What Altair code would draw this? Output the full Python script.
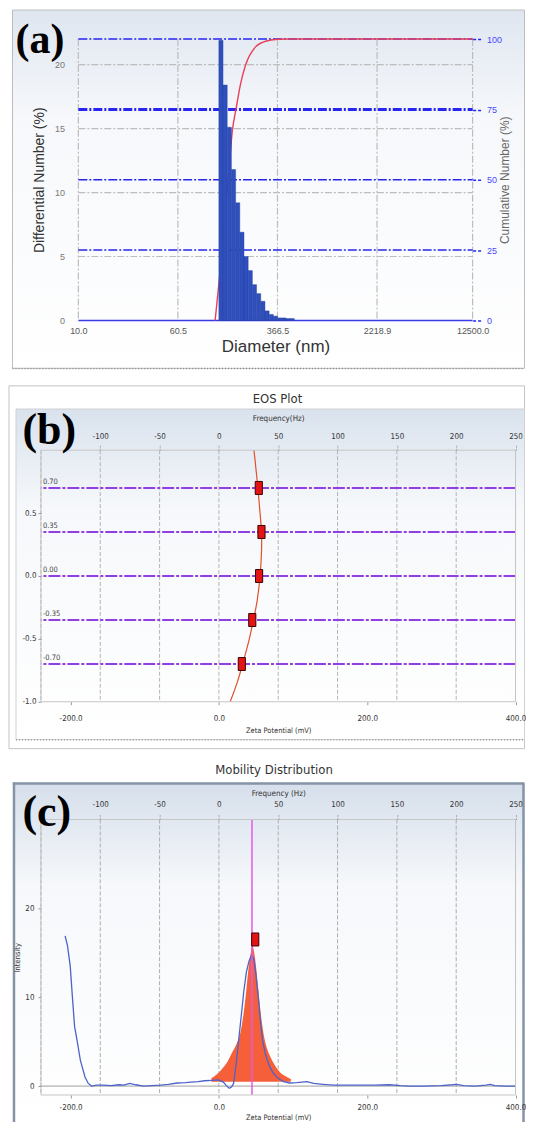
import altair as alt
import pandas as pd

# ---------------- (a) size distribution by number ----------------
bin_lo = [126.9, 136.9, 147.7, 159.3, 171.9, 185.4, 200.0, 215.8, 232.8, 251.1,
          270.9, 292.3, 315.3, 340.1, 366.9, 395.9, 427.1, 460.7]
bin_hi = [136.9, 147.7, 159.3, 171.9, 185.4, 200.0, 215.8, 232.8, 251.1, 270.9,
          292.3, 315.3, 340.1, 366.9, 395.9, 427.1, 460.7, 497.0]
diff_number = [21.9, 18.4, 15.1, 11.8, 9.2, 6.9, 5.0, 3.9, 2.8, 2.1,
               1.5, 0.75, 0.47, 0.34, 0.2, 0.2, 0.15, 0.15]
cum_diam = [118.7, 127.6, 151.8, 161.7, 173.8, 187.8, 205.6, 246.3, 295.1, 366.4, 446.8, 12500.0]
cum_number = [0, 14, 52.5, 67, 75.5, 84, 90.7, 97.2, 99.2, 99.9, 100, 100]
diam_ticks = [10.0, 60.5, 366.5, 2218.9, 12500.0]
diff_ticks = [0, 5, 10, 15, 20]
cum_ticks = [0, 25, 50, 75, 100]

# ---------------- (b) EOS plot ----------------
eos_field = [0.70, 0.35, 0.00, -0.35, -0.70]
eos_field_labels = ["0.70", "0.35", "0.00", "-0.35", "-0.70"]
eos_zeta = [53.8, 57.4, 54.2, 45.0, 30.9]
eos_curve_field = [1.0, 0.85, 0.70, 0.50, 0.35, 0.20, 0.00, -0.20, -0.35, -0.50, -0.70, -0.85, -1.00]
eos_curve_zeta = [47.3, 50.0, 52.5, 55.5, 57.4, 57.5, 55.5, 51.5, 46.5, 41.0, 32.0, 24.5, 15.2]
freq_ticks = [-150, -100, -50, 0, 50, 100, 150, 200, 250]
zeta_ticks = [-200, 0, 200, 400]
eos_y_ticks = [-1.0, -0.5, 0.0, 0.5, 1.0]

# ---------------- (c) mobility distribution ----------------
mob_zeta = [-207.4, -204.2, -200.5, -197.3, -194.6, -191.4, -186.8, -180.7, -176.2, -171.6,
            -165, -156.9, -145, -135, -128, -120.2, -112, -101.9, -90, -79,
            -68, -56, -45, -37.6, -28, -19.3, -10, -0.8, 6, 10,
            13.9, 17, 19.8, 23, 26.7, 30, 33.6, 37, 40.4, 44.1,
            47.3, 50, 53.2, 56, 58.8, 63, 67.9, 73, 79.5, 87,
            95.6, 105, 118.5, 128, 140, 155, 175, 195, 210, 230,
            245, 256, 275, 300, 315, 320.4, 330, 345, 360, 366,
            372, 385, 400]
mob_intensity = [16.9, 15.8, 13.5, 9.7, 6.7, 5.2, 2.9, 1.06, 0.3, 0.0,
                 0.1, 0.1, 0.05, 0.15, 0.1, 0.3, 0.15, 0.0, 0.05, 0.1,
                 0.2, 0.35, 0.4, 0.45, 0.5, 0.6, 0.65, 0.7, 0.45, 0.05,
                 -0.25, -0.1, 0.3, 2.3, 5.2, 7.8, 10.7, 12.8, 14.0, 14.8,
                 14.2, 12.5, 9.9, 7.3, 5.2, 3.5, 2.3, 1.5, 0.9, 0.5,
                 0.35, 0.4, 0.5, 0.3, 0.2, 0.1, 0.1, 0.1, 0.1, 0.15,
                 0.05, 0.0, 0.0, 0.05, 0.15, 0.2, 0.05, 0.0, 0.1, 0.2,
                 0.05, 0.0, 0.0]
peak_zeta = [-10, -3, 5, 12, 18, 24, 29, 33, 36, 40, 43, 45, 47, 50, 53, 56, 60, 65, 70, 75, 82, 90, 97]
peak_intensity = [0.9, 1.3, 2.0, 2.8, 3.8, 4.8, 6.0, 8.0, 10.0, 13.3, 15.0, 15.8, 15.3, 13.5,
                  11.0, 8.5, 6.0, 4.2, 3.2, 2.4, 1.6, 1.1, 0.8]
peak_base = 0.5
peak_mean_zeta = [44.6]
marker_zeta = [49.0]
marker_intensity = [16.5]
mob_y_ticks = [0, 10, 20, 30]

# ---------------- helpers ----------------
NARROW = "Liberation Sans Narrow, DejaVu Sans Condensed, Liberation Sans, sans-serif"
SANS = "Liberation Sans, Arial, sans-serif"
SERIF = "Liberation Serif, Times New Roman, serif"
RECT = "M-0.55,-1H0.55V1H-0.55Z"
RIGHT = 484.5
one = pd.DataFrame({"k": [0]})


def box(x1, x2, y1, y2, **kw):
    return alt.Chart(one).mark_rect(**kw).encode(
        x=alt.value(x1), x2=alt.value(x2), y=alt.value(y1), y2=alt.value(y2))


def hline(x1, x2, y, **kw):
    return alt.Chart(one).mark_rule(**kw).encode(
        x=alt.value(x1), x2=alt.value(x2), y=alt.value(y))


def vline(x, y1, y2, **kw):
    return alt.Chart(one).mark_rule(**kw).encode(
        x=alt.value(x), y=alt.value(y1), y2=alt.value(y2))


def label(text, x, y, **kw):
    return alt.Chart(one).mark_text(text=text, **kw).encode(x=alt.value(x), y=alt.value(y))


def grad(top):
    return alt.Gradient(gradient="linear", x1=0, x2=0, y1=0, y2=1,
                        stops=[alt.GradientStop(color=top, offset=0),
                               alt.GradientStop(color="#f6f8fb", offset=0.3),
                               alt.GradientStop(color="#ffffff", offset=1)])


MINUS = "replace(format(datum.value, '.1f'), '\u2212', '-')"
MINUS_D = "replace(format(datum.value, 'd'), '\u2212', '-')"
PANEL_LABEL = dict(font=SERIF, fontWeight="bold", align="left", baseline="middle", color="#000")

# ---------------- panel (a) ----------------
A_IN = 37.5
WA, HA = 432.5, 282
xa = alt.Scale(type="log", domain=[10, 12500], range=[A_IN, WA])
yl = alt.Scale(domain=[0, 22])
yr = alt.Scale(domain=[0, 100])
GRIDA = dict(color="#bdbdbd", strokeWidth=1.2, strokeDash=[7, 2, 2, 2])

hgrid_df = pd.DataFrame({"v": diff_ticks[1:], "d1": diam_ticks[0], "d2": diam_ticks[-1]})
cumline_df = pd.DataFrame({"c": cum_ticks[1:], "d1": diam_ticks[0], "d2": diam_ticks[-1]})
base_df = pd.DataFrame({"c": cum_ticks[:1], "d1": diam_ticks[0], "d2": diam_ticks[-1]})

a_bg = box(-28.5, RIGHT, -29.5, 340, fill="white", strokeWidth=0)
a_frame = box(-28.5, RIGHT, -29, 330, fill=grad("#dfe6f0"), stroke="#bdbdbd", strokeWidth=1)
a_dots = hline(-28.5, RIGHT, 330, color="#8a8a8a", strokeDash=[1, 2], strokeWidth=1.5)
a_vgrid = alt.Chart(pd.DataFrame({"d": diam_ticks})).mark_rule(**GRIDA).encode(
    x=alt.X("d:Q", scale=xa, axis=alt.Axis(
        orient="bottom", values=diam_ticks, format=".1f", title="Diameter (nm)",
        labelFont=SANS, labelFontSize=9, labelColor="#555", labelPadding=6, ticks=False,
        titleFont=SANS, titleFontSize=17, titleColor="#333", titlePadding=3, zindex=1)))
a_hgrid = alt.Chart(hgrid_df).mark_rule(**GRIDA).encode(
    x=alt.X("d1:Q", scale=xa, axis=None), x2="d2:Q",
    y=alt.Y("v:Q", scale=yl, axis=alt.Axis(
        orient="left", values=diff_ticks, title="Differential Number (%)", offset=-A_IN,
        labelFont=SANS, labelFontSize=9, labelColor="#777", ticks=False, labelPadding=14,
        titleFont=SANS, titleFontSize=14, titleColor="#333", titlePadding=8, zindex=1)))
a_cumlines = alt.Chart(cumline_df).mark_rule(
    color="#2626f0", strokeDash=[9, 2, 2, 2]).encode(
    x=alt.X("d1:Q", scale=xa, axis=None), x2="d2:Q",
    y=alt.Y("c:Q", scale=yr, axis=alt.Axis(
        orient="right", values=cum_ticks, title="Cumulative Number (%)",
        labelFont=SANS, labelFontSize=9, labelColor="#4848ff",
        tickColor="#2626f0", tickSize=9, tickDash=[3, 2], tickWidth=1.5,
        labelPadding=5, titleFont=SANS, titleFontSize=12, titleColor="#666",
        titlePadding=10, titleAngle=270, zindex=1)),
    strokeWidth=alt.condition("datum.c == 75", alt.value(3), alt.value(1.5)))
a_base = alt.Chart(base_df).mark_rule(color="#3a3ae8", strokeWidth=1.5).encode(
    x=alt.X("d1:Q", scale=xa, axis=None), x2="d2:Q",
    y=alt.Y("c:Q", scale=yr, axis=None))
a_cum = alt.Chart(pd.DataFrame({"d": cum_diam, "c": cum_number})).mark_line(
    color="#e8405a", strokeWidth=1.4, interpolate="monotone").encode(
    x=alt.X("d:Q", scale=xa, axis=None), y=alt.Y("c:Q", scale=yr, axis=None))
a_bars = alt.Chart(pd.DataFrame({"lo": bin_lo, "hi": bin_hi, "v": diff_number})).mark_rect(
    fill="#2f4fbd", stroke="#233f9c", strokeWidth=0.4).encode(
    x=alt.X("lo:Q", scale=xa, axis=None), x2="hi:Q",
    y=alt.Y("v:Q", scale=yl, axis=None), y2=alt.Y2Datum(0))
a_lab = label("(a)", -25.5, 1, fontSize=42, **PANEL_LABEL)

pa = alt.layer(
    a_bg, a_frame, a_dots, a_vgrid, a_hgrid, a_cumlines, a_base, a_cum, a_bars, a_lab
).resolve_scale(x="independent", y="independent").properties(width=WA, height=HA)

# ---------------- shared axes for (b), (c) ----------------
zs = alt.Scale(domain=[-240, 400])
fs = alt.Scale(domain=[-150, 250])


def freq_axis(title, lpad, tpad):
    return alt.Axis(orient="top", values=freq_ticks[1:], labelExpr=MINUS_D, title=title,
                    labelFont=NARROW, labelFontSize=8, labelColor="#333", labelPadding=lpad,
                    tickSize=6, tickColor="#aaaaaa", tickDash=[2, 1],
                    titleFont=NARROW, titleFontSize=8, titleColor="#333", titlePadding=tpad,
                    zindex=1)


def zeta_axis(lpad, tpad):
    return alt.Axis(orient="bottom", values=zeta_ticks, labelExpr=MINUS, title="Zeta Potential (mV)",
                    labelFont=NARROW, labelFontSize=8, labelColor="#333", labelPadding=lpad,
                    tickSize=3, tickColor="#999999",
                    titleFont=NARROW, titleFontSize=7.5, titleColor="#333", titlePadding=tpad,
                    zindex=1)


# ---------------- panel (b) ----------------
WB, HB = 475.5, 252
yb = alt.Scale(domain=[-1, 1])
b_bg = box(-32.5, RIGHT, -71.5, 305, fill="white", strokeWidth=0)
b_outer = box(-32, RIGHT, -64.5, 299, fill="white", stroke="#c4c4c4", strokeWidth=1)
b_inner = box(-25, RIGHT, -41.3, 290, fill=grad("#d9e2ed"), stroke="#d2d2d2", strokeWidth=1)
b_dots = hline(-25, RIGHT, 290, color="#9a9a9a", strokeDash=[1, 2], strokeWidth=1.5)
b_title = label("EOS Plot", 237, -51.5, font=NARROW, fontSize=13, color="#333",
                align="center", baseline="middle")
b_fgrid = alt.Chart(pd.DataFrame({"f": freq_ticks})).mark_rule(
    color="#b4b4b4", strokeDash=[4, 2]).encode(
    x=alt.X("f:Q", scale=fs, axis=freq_axis("Frequency(Hz)", 4, 10)))
b_levels = alt.Chart(pd.DataFrame({"lv": eos_field})).mark_rule(
    color="#9040e2", strokeWidth=2, strokeDash=[12, 2, 3, 2]).encode(
    y=alt.Y("lv:Q", scale=yb, axis=alt.Axis(
        orient="left", values=eos_y_ticks[:-1], labelExpr=MINUS,
        labelFont=NARROW, labelFontSize=8, labelColor="#333", labelPadding=2,
        tickSize=3, tickColor="#999999", title=None, zindex=1)))
b_lvtext = alt.Chart(pd.DataFrame({"lv": eos_field, "t": eos_field_labels})).mark_text(
    align="left", baseline="bottom", dy=-2, font=NARROW, fontSize=7.5, color="#444").encode(
    x=alt.value(2), y=alt.Y("lv:Q", scale=yb, axis=None), text="t:N")
b_curve = alt.Chart(pd.DataFrame({"z": eos_curve_zeta, "lv": eos_curve_field})).mark_line(
    color="#e0502c", strokeWidth=1.2, interpolate="catmull-rom").encode(
    x=alt.X("z:Q", scale=zs, axis=zeta_axis(10, 4)), y=alt.Y("lv:Q", scale=yb, axis=None),
    order=alt.Order("lv:Q", sort="descending"))
b_marks = alt.Chart(pd.DataFrame({"z": eos_zeta, "lv": eos_field})).mark_point(
    shape=RECT, size=169, filled=True, fill="#e41414", stroke="#3a0000",
    strokeWidth=1, opacity=1).encode(
    x=alt.X("z:Q", scale=zs, axis=None), y=alt.Y("lv:Q", scale=yb, axis=None))
b_border = box(0, WB, 0, HB, filled=False, stroke="#c6c6c6", strokeWidth=1)
b_lab = label("(b)", -18.5, -19.5, fontSize=44, **PANEL_LABEL)

pb = alt.layer(
    b_bg, b_outer, b_inner, b_dots, b_title, b_fgrid, b_levels, b_lvtext,
    b_curve, b_marks, b_border, b_lab
).resolve_scale(x="independent", y="independent").properties(width=WB, height=HB)

# ---------------- panel (c) ----------------
WC, HC = 475.5, 276
yc = alt.Scale(domain=[-1, 30])
C_EDGE = "#8593a6"
c_bg = box(-32.5, RIGHT, -64.5, 303, fill="white", strokeWidth=0)
c_fill = box(-27, RIGHT - 1, -36, 303, fill=grad("#d6dfeb"), strokeWidth=0)
c_left = vline(-27, -37.2, 303, color=C_EDGE, strokeWidth=2.5)
c_top = hline(-28.2, RIGHT - 1, -36, color=C_EDGE, strokeWidth=2.5)
c_right = vline(RIGHT - 1, -37.2, 303, color=C_EDGE, strokeWidth=2.5)
c_title = label("Mobility Distribution", 233.5, -50, font=NARROW, fontSize=13, color="#333",
                align="center", baseline="middle")
c_fgrid = alt.Chart(pd.DataFrame({"f": freq_ticks})).mark_rule(
    color="#adadad", strokeDash=[4, 2]).encode(
    x=alt.X("f:Q", scale=fs, axis=freq_axis("Frequency (Hz)", 5, 3)))
c_zero = alt.Chart(pd.DataFrame({"i": mob_y_ticks[:1]})).mark_rule(
    color="#a0a0a0", strokeWidth=1).encode(
    y=alt.Y("i:Q", scale=yc, axis=alt.Axis(
        orient="left", values=mob_y_ticks[:-1], format="d", title="Intensity",
        labelFont=NARROW, labelFontSize=8, labelColor="#333", labelPadding=4,
        tickSize=3, tickColor="#999999",
        titleFont=NARROW, titleFontSize=7.5, titleColor="#333", titlePadding=3, zindex=1)))
c_peak = alt.Chart(pd.DataFrame({"z": peak_zeta, "i": peak_intensity})).mark_area(
    color="#f5603a", opacity=1, interpolate="monotone").encode(
    x=alt.X("z:Q", scale=zs, axis=None), y=alt.Y("i:Q", scale=yc, axis=None),
    y2=alt.Y2Datum(peak_base))
c_line = alt.Chart(pd.DataFrame({"z": mob_zeta, "i": mob_intensity})).mark_line(
    color="#4d63c9", strokeWidth=1.3).encode(
    x=alt.X("z:Q", scale=zs, axis=zeta_axis(6, 2)), y=alt.Y("i:Q", scale=yc, axis=None))
c_mean = alt.Chart(pd.DataFrame({"z": peak_mean_zeta})).mark_rule(
    color="#e45ae4", strokeWidth=1.5).encode(x=alt.X("z:Q", scale=zs, axis=None))
c_mark = alt.Chart(pd.DataFrame({"z": marker_zeta, "i": marker_intensity})).mark_point(
    shape=RECT, size=169, filled=True, fill="#e41414", stroke="#3a0000",
    strokeWidth=1, opacity=1).encode(
    x=alt.X("z:Q", scale=zs, axis=None), y=alt.Y("i:Q", scale=yc, axis=None))
c_border = box(0, WC, 0, HC, filled=False, stroke="#c6c6c6", strokeWidth=1)
c_lab = label("(c)", -18.5, -6.5, fontSize=44, **PANEL_LABEL)

pc = alt.layer(
    c_bg, c_fill, c_left, c_top, c_right, c_title, c_fgrid, c_zero, c_peak, c_line,
    c_mean, c_mark, c_border, c_lab
).resolve_scale(x="independent", y="independent").properties(width=WC, height=HC)

chart = alt.ConcatChart(
    concat=[pa, pb, pc], columns=1, spacing=0, align="none", padding=0
).configure_view(stroke=None).configure_axis(
    labelFlush=False, labelOverlap=False, grid=False, domain=False,
    titleFontWeight="normal"
)

chart.save("out.html", embed_options={"renderer": "svg", "actions": False})
